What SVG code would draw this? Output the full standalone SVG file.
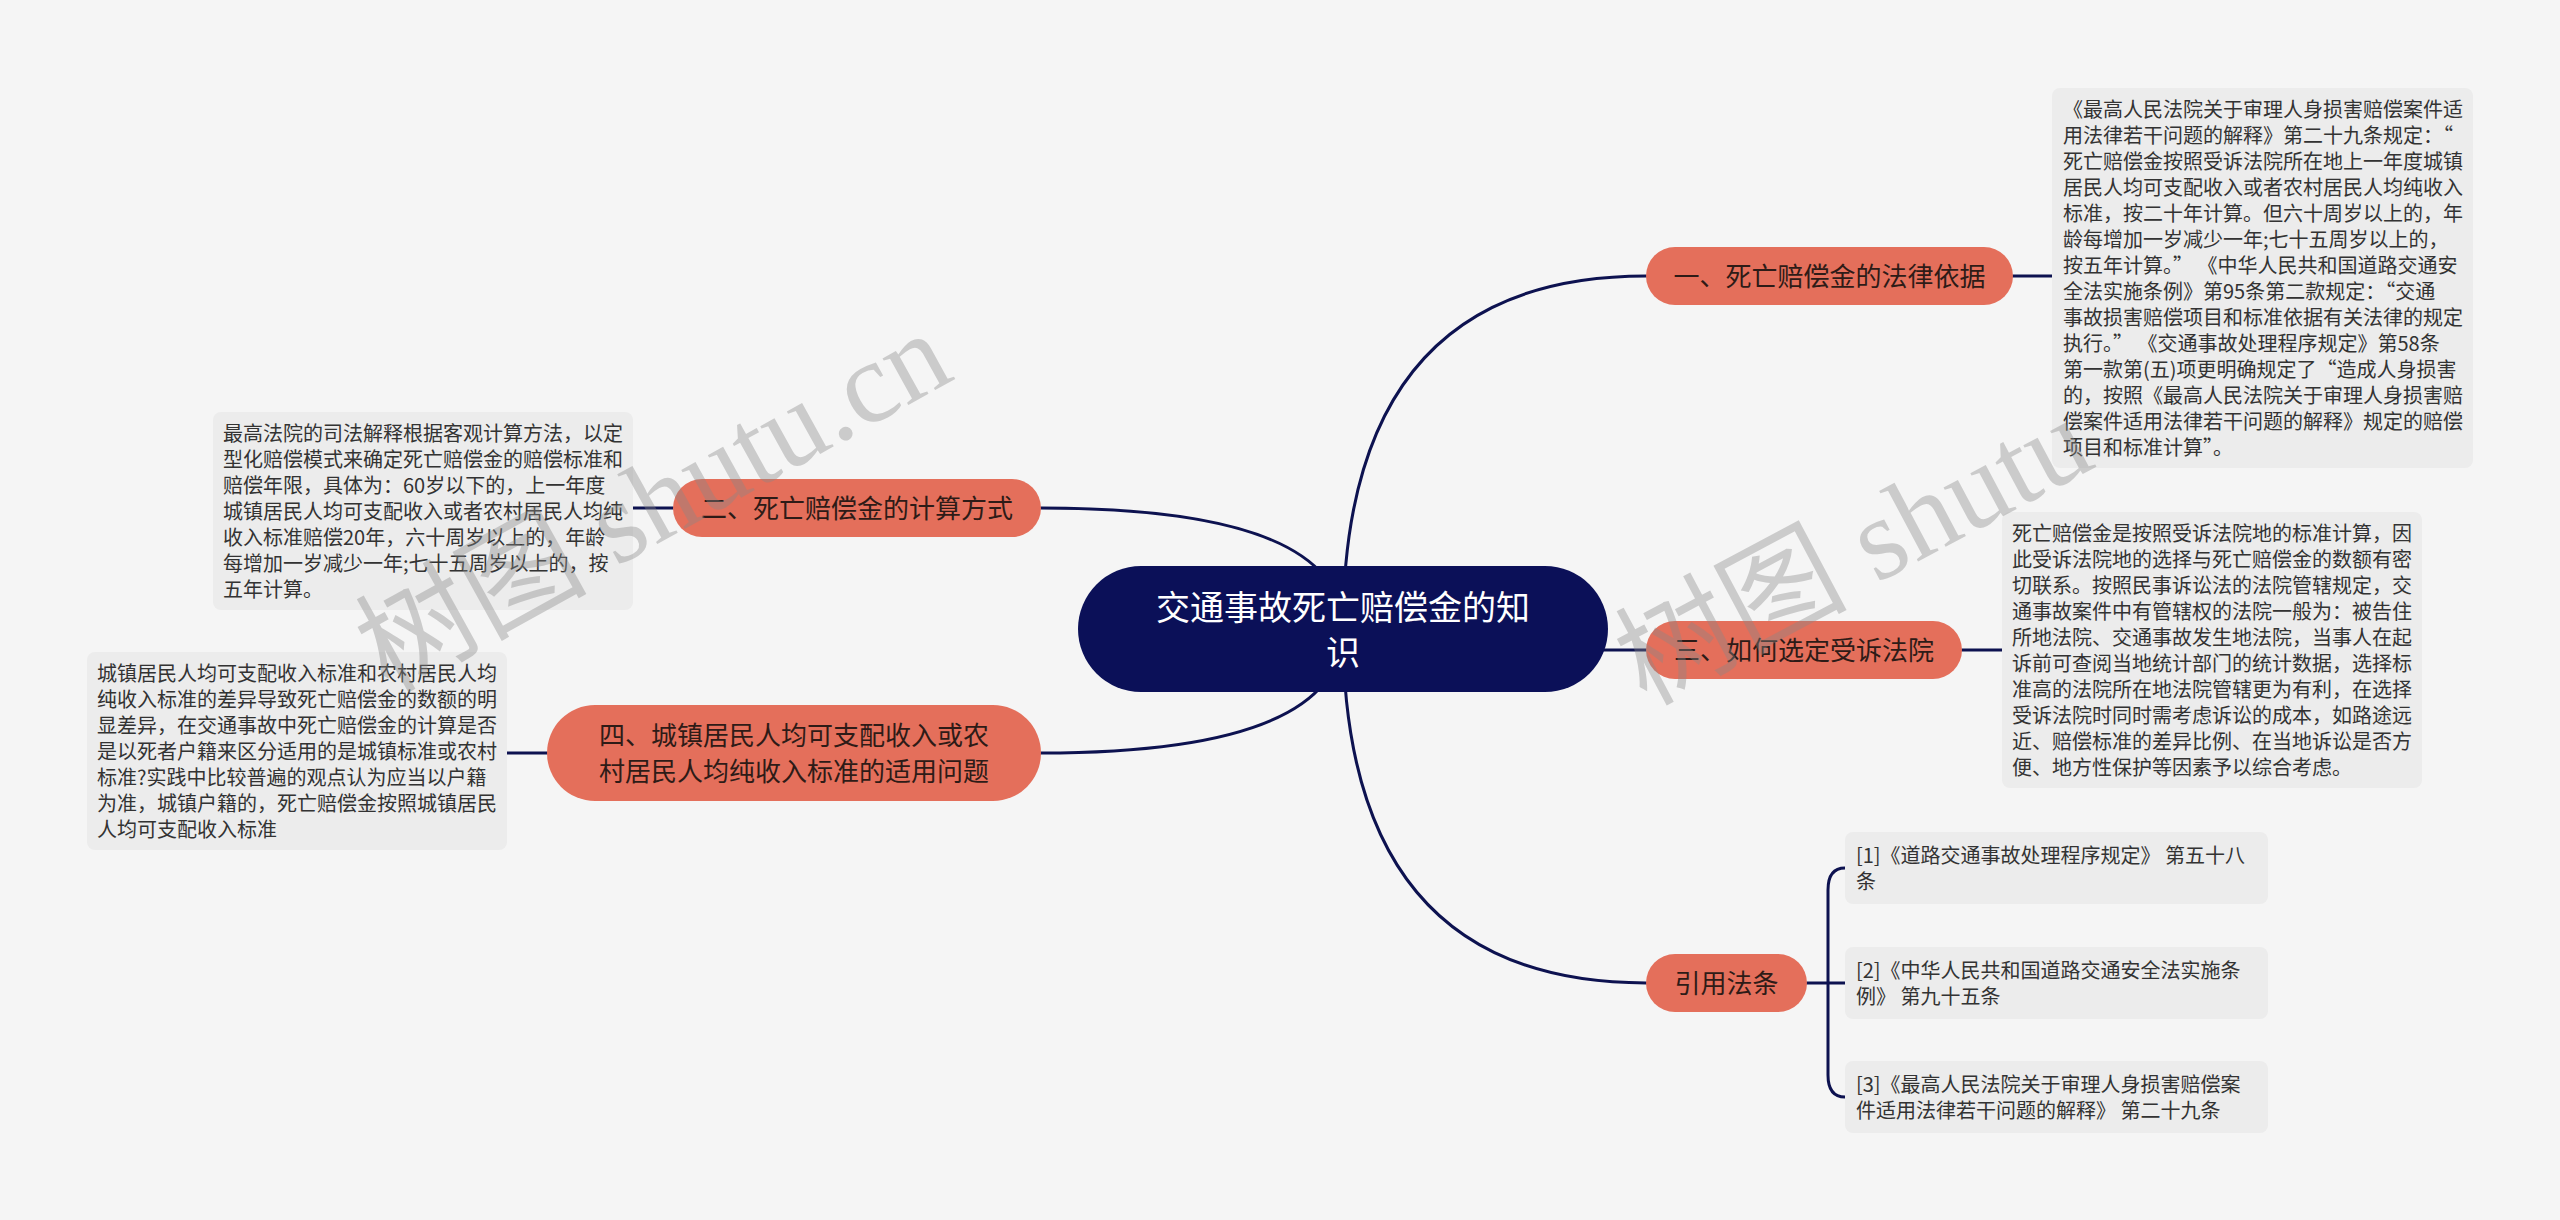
<svg xmlns="http://www.w3.org/2000/svg" width="2560" height="1220" viewBox="0 0 2560 1220">
<style>
.bg{fill:#f5f5f5}
.conn{fill:none;stroke:#0d1250;stroke-width:3;stroke-linecap:round}
.root rect{fill:#0b1058}
.root text{fill:#ffffff;font-family:"Noto Sans CJK SC","Noto Sans",sans-serif;font-size:34px;text-anchor:middle}
.branch rect{fill:#e46f5b}
.branch text{fill:#2e1b17;font-family:"Noto Sans CJK SC","Noto Sans",sans-serif;font-size:26px;text-anchor:middle}
.leaf rect{fill:#ececec}
.leaf text{fill:#333333;font-family:"Noto Sans CJK SC","Noto Sans",sans-serif;font-size:20px}
.wm{fill:#888888;opacity:0.38;font-family:"Liberation Serif","Noto Sans CJK SC",serif;font-size:116px;text-anchor:middle}
</style>
<rect class="bg" x="0" y="0" width="2560" height="1220"/>

<g id="connectors">
<path class="conn" d="M1343,629 Q1343,276 1646,276"/>
<path class="conn" d="M1343,629 Q1343,508 1041,508"/>
<path class="conn" d="M1343,629 Q1343,650 1646,650"/>
<path class="conn" d="M1343,629 Q1343,753 1041,753"/>
<path class="conn" d="M1343,629 Q1343,983 1646,983"/>
<path class="conn" d="M2013,276 H2052"/>
<path class="conn" d="M673,508 H633"/>
<path class="conn" d="M1962,650 H2002"/>
<path class="conn" d="M547,753 H507"/>
<path class="conn" d="M1807,983 H1845"/>
<path class="conn" d="M1845,868 Q1828,868 1828,890 V1075 Q1828,1097 1845,1097"/>
</g>

<g id="root" class="root">
<rect x="1078" y="566" width="530" height="126" rx="63"/>
<text x="1343" y="620">交通事故死亡赔偿金的知</text>
<text x="1343" y="665">识</text>
</g>

<g id="node1" class="branch">
<rect x="1646" y="247" width="367" height="58" rx="29"/>
<text x="1829.5" y="286">一、死亡赔偿金的法律依据</text>
</g>
<g id="node2" class="branch">
<rect x="673" y="479" width="368" height="58" rx="29"/>
<text x="857" y="518">二、死亡赔偿金的计算方式</text>
</g>
<g id="node3" class="branch">
<rect x="1646" y="621" width="316" height="58" rx="29"/>
<text x="1804" y="660">三、如何选定受诉法院</text>
</g>
<g id="node4" class="branch">
<rect x="547" y="705" width="494" height="96" rx="48"/>
<text x="794" y="745">四、城镇居民人均可支配收入或农</text>
<text x="794" y="781">村居民人均纯收入标准的适用问题</text>
</g>
<g id="node5" class="branch">
<rect x="1646" y="954" width="161" height="58" rx="29"/>
<text x="1726.5" y="993">引用法条</text>
</g>

<g id="leaf1" class="leaf">
<rect x="2052" y="88" width="421" height="380" rx="8"/>
<text x="2063" y="117">《最高人民法院关于审理人身损害赔偿案件适</text>
<text x="2063" y="143">用法律若干问题的解释》第二十九条规定：“</text>
<text x="2063" y="169">死亡赔偿金按照受诉法院所在地上一年度城镇</text>
<text x="2063" y="195">居民人均可支配收入或者农村居民人均纯收入</text>
<text x="2063" y="221">标准，按二十年计算。但六十周岁以上的，年</text>
<text x="2063" y="247">龄每增加一岁减少一年;七十五周岁以上的，</text>
<text x="2063" y="273">按五年计算。” 《中华人民共和国道路交通安</text>
<text x="2063" y="299">全法实施条例》第95条第二款规定：“交通</text>
<text x="2063" y="325">事故损害赔偿项目和标准依据有关法律的规定</text>
<text x="2063" y="351">执行。” 《交通事故处理程序规定》第58条</text>
<text x="2063" y="377">第一款第(五)项更明确规定了“造成人身损害</text>
<text x="2063" y="403">的，按照《最高人民法院关于审理人身损害赔</text>
<text x="2063" y="429">偿案件适用法律若干问题的解释》规定的赔偿</text>
<text x="2063" y="455">项目和标准计算”。</text>
</g>

<g id="leaf2" class="leaf">
<rect x="213" y="412" width="420" height="198" rx="8"/>
<text x="223" y="441">最高法院的司法解释根据客观计算方法，以定</text>
<text x="223" y="467">型化赔偿模式来确定死亡赔偿金的赔偿标准和</text>
<text x="223" y="493">赔偿年限，具体为：60岁以下的，上一年度</text>
<text x="223" y="519">城镇居民人均可支配收入或者农村居民人均纯</text>
<text x="223" y="545">收入标准赔偿20年，六十周岁以上的，年龄</text>
<text x="223" y="571">每增加一岁减少一年;七十五周岁以上的，按</text>
<text x="223" y="597">五年计算。</text>
</g>

<g id="leaf3" class="leaf">
<rect x="2002" y="512" width="420" height="276" rx="8"/>
<text x="2012" y="541">死亡赔偿金是按照受诉法院地的标准计算，因</text>
<text x="2012" y="567">此受诉法院地的选择与死亡赔偿金的数额有密</text>
<text x="2012" y="593">切联系。按照民事诉讼法的法院管辖规定，交</text>
<text x="2012" y="619">通事故案件中有管辖权的法院一般为：被告住</text>
<text x="2012" y="645">所地法院、交通事故发生地法院，当事人在起</text>
<text x="2012" y="671">诉前可查阅当地统计部门的统计数据，选择标</text>
<text x="2012" y="697">准高的法院所在地法院管辖更为有利，在选择</text>
<text x="2012" y="723">受诉法院时同时需考虑诉讼的成本，如路途远</text>
<text x="2012" y="749">近、赔偿标准的差异比例、在当地诉讼是否方</text>
<text x="2012" y="775">便、地方性保护等因素予以综合考虑。</text>
</g>

<g id="leaf4" class="leaf">
<rect x="87" y="652" width="420" height="198" rx="8"/>
<text x="97" y="681">城镇居民人均可支配收入标准和农村居民人均</text>
<text x="97" y="707">纯收入标准的差异导致死亡赔偿金的数额的明</text>
<text x="97" y="733">显差异，在交通事故中死亡赔偿金的计算是否</text>
<text x="97" y="759">是以死者户籍来区分适用的是城镇标准或农村</text>
<text x="97" y="785">标准?实践中比较普遍的观点认为应当以户籍</text>
<text x="97" y="811">为准，城镇户籍的，死亡赔偿金按照城镇居民</text>
<text x="97" y="837">人均可支配收入标准</text>
</g>

<g id="cite1" class="leaf">
<rect x="1845" y="832" width="423" height="72" rx="8"/>
<text x="1856" y="863">[1]《道路交通事故处理程序规定》 第五十八</text>
<text x="1856" y="889">条</text>
</g>
<g id="cite2" class="leaf">
<rect x="1845" y="947" width="423" height="72" rx="8"/>
<text x="1856" y="978">[2]《中华人民共和国道路交通安全法实施条</text>
<text x="1856" y="1004">例》 第九十五条</text>
</g>
<g id="cite3" class="leaf">
<rect x="1845" y="1061" width="423" height="72" rx="8"/>
<text x="1856" y="1092">[3]《最高人民法院关于审理人身损害赔偿案</text>
<text x="1856" y="1118">件适用法律若干问题的解释》 第二十九条</text>
</g>

<g id="watermarks">
<text class="wm" transform="translate(672,536) rotate(-29)">树图 shutu.cn</text>
<text class="wm" transform="translate(1872,586) rotate(-28)">树图 shutu</text>
</g>
</svg>
